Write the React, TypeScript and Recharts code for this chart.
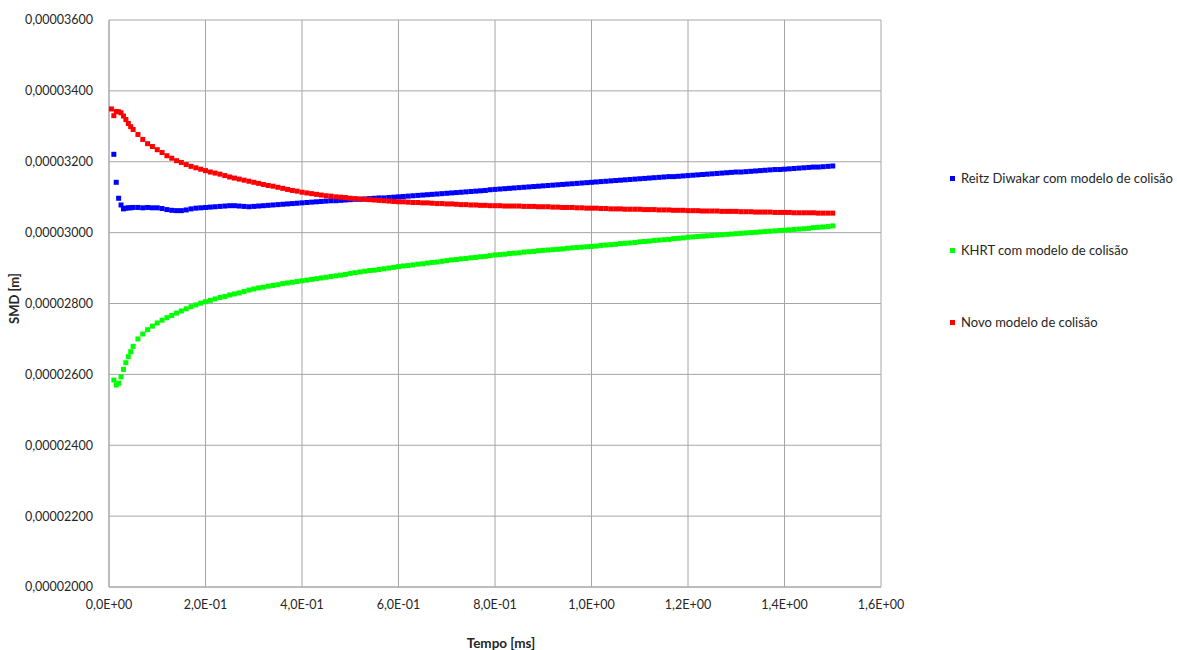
import { ScatterChart, Scatter, XAxis, YAxis, CartesianGrid, Label } from 'recharts'

// Sauter mean diameter (µm) sampled over injection time (ms)
const TIME_MS = [
  0.005, 0.01, 0.015, 0.02, 0.025, 0.03, 0.035, 0.04, 0.045, 0.05,
  0.06, 0.07, 0.08, 0.09, 0.1, 0.11, 0.12, 0.13, 0.14, 0.15,
  0.16, 0.17, 0.18, 0.19, 0.2, 0.21, 0.22, 0.23, 0.24, 0.25,
  0.26, 0.27, 0.28, 0.29, 0.3, 0.31, 0.32, 0.33, 0.34, 0.35,
  0.36, 0.37, 0.38, 0.39, 0.4, 0.41, 0.42, 0.43, 0.44, 0.45,
  0.46, 0.47, 0.48, 0.49, 0.5, 0.51, 0.52, 0.53, 0.54, 0.55,
  0.56, 0.57, 0.58, 0.59, 0.6, 0.61, 0.62, 0.63, 0.64, 0.65,
  0.66, 0.67, 0.68, 0.69, 0.7, 0.71, 0.72, 0.73, 0.74, 0.75,
  0.76, 0.77, 0.78, 0.79, 0.8, 0.81, 0.82, 0.83, 0.84, 0.85,
  0.86, 0.87, 0.88, 0.89, 0.9, 0.91, 0.92, 0.93, 0.94, 0.95,
  0.96, 0.97, 0.98, 0.99, 1.0, 1.01, 1.02, 1.03, 1.04, 1.05,
  1.06, 1.07, 1.08, 1.09, 1.1, 1.11, 1.12, 1.13, 1.14, 1.15,
  1.16, 1.17, 1.18, 1.19, 1.2, 1.21, 1.22, 1.23, 1.24, 1.25,
  1.26, 1.27, 1.28, 1.29, 1.3, 1.31, 1.32, 1.33, 1.34, 1.35,
  1.36, 1.37, 1.38, 1.39, 1.4, 1.41, 1.42, 1.43, 1.44, 1.45,
  1.46, 1.47, 1.48, 1.49, 1.5,
]

const SMD_REITZ = [
  null, 32.21, 31.42, 30.97, 30.78, 30.67, 30.69, 30.70, 30.70, 30.71,
  30.71, 30.70, 30.71, 30.70, 30.70, 30.68, 30.65, 30.63, 30.62, 30.62,
  30.64, 30.67, 30.69, 30.70, 30.71, 30.72, 30.73, 30.74, 30.75, 30.76,
  30.76, 30.75, 30.74, 30.73, 30.74, 30.75, 30.76, 30.77, 30.78, 30.79,
  30.80, 30.81, 30.82, 30.83, 30.84, 30.85, 30.86, 30.87, 30.88, 30.89,
  30.90, 30.90, 30.91, 30.92, 30.93, 30.94, 30.94, 30.95, 30.96, 30.97,
  30.98, 30.98, 30.99, 31.00, 31.01, 31.02, 31.03, 31.04, 31.05, 31.06,
  31.07, 31.08, 31.09, 31.10, 31.11, 31.12, 31.13, 31.14, 31.15, 31.16,
  31.17, 31.18, 31.19, 31.21, 31.22, 31.23, 31.24, 31.25, 31.26, 31.27,
  31.28, 31.29, 31.30, 31.31, 31.32, 31.33, 31.34, 31.35, 31.36, 31.37,
  31.38, 31.39, 31.40, 31.41, 31.42, 31.43, 31.44, 31.45, 31.46, 31.47,
  31.48, 31.49, 31.50, 31.51, 31.52, 31.53, 31.54, 31.55, 31.56, 31.57,
  31.58, 31.58, 31.59, 31.60, 31.61, 31.62, 31.63, 31.64, 31.65, 31.66,
  31.67, 31.68, 31.69, 31.70, 31.71, 31.71, 31.72, 31.73, 31.74, 31.75,
  31.76, 31.77, 31.78, 31.78, 31.79, 31.80, 31.81, 31.82, 31.83, 31.84,
  31.85, 31.85, 31.86, 31.87, 31.88,
]

const SMD_KHRT = [
  null, 25.84, 25.70, 25.75, 25.93, 26.14, 26.33, 26.50, 26.64, 26.79,
  27.00, 27.14, 27.26, 27.36, 27.45, 27.53, 27.60, 27.66, 27.73, 27.79,
  27.85, 27.91, 27.96, 28.01, 28.05, 28.09, 28.13, 28.17, 28.20, 28.24,
  28.27, 28.30, 28.34, 28.38, 28.41, 28.44, 28.46, 28.49, 28.51, 28.53,
  28.56, 28.58, 28.60, 28.62, 28.64, 28.66, 28.68, 28.70, 28.72, 28.74,
  28.76, 28.78, 28.80, 28.82, 28.85, 28.87, 28.89, 28.91, 28.93, 28.94,
  28.96, 28.98, 29.00, 29.02, 29.04, 29.06, 29.07, 29.09, 29.11, 29.12,
  29.14, 29.16, 29.17, 29.19, 29.21, 29.23, 29.24, 29.26, 29.27, 29.29,
  29.30, 29.32, 29.33, 29.35, 29.37, 29.38, 29.39, 29.41, 29.42, 29.43,
  29.45, 29.46, 29.47, 29.49, 29.50, 29.51, 29.52, 29.53, 29.54, 29.56,
  29.57, 29.58, 29.59, 29.60, 29.61, 29.62, 29.64, 29.65, 29.66, 29.67,
  29.69, 29.70, 29.71, 29.72, 29.74, 29.75, 29.76, 29.78, 29.79, 29.80,
  29.81, 29.83, 29.84, 29.85, 29.87, 29.88, 29.89, 29.90, 29.91, 29.92,
  29.93, 29.94, 29.95, 29.96, 29.97, 29.98, 29.99, 30.00, 30.01, 30.02,
  30.03, 30.04, 30.05, 30.06, 30.07, 30.08, 30.09, 30.10, 30.11, 30.12,
  30.14, 30.15, 30.16, 30.17, 30.19,
]

const SMD_NOVO = [
  33.49, 33.30, 33.42, 33.41, 33.38, 33.29, 33.19, 33.08, 32.99, 32.91,
  32.77, 32.63, 32.51, 32.43, 32.34, 32.26, 32.17, 32.10, 32.03, 31.98,
  31.92, 31.87, 31.83, 31.79, 31.75, 31.71, 31.68, 31.65, 31.61, 31.57,
  31.54, 31.51, 31.48, 31.45, 31.42, 31.39, 31.36, 31.33, 31.31, 31.28,
  31.25, 31.22, 31.19, 31.17, 31.14, 31.12, 31.10, 31.08, 31.06, 31.04,
  31.03, 31.01, 31.00, 30.99, 30.97, 30.96, 30.95, 30.94, 30.93, 30.92,
  30.91, 30.90, 30.89, 30.88, 30.87, 30.87, 30.86, 30.85, 30.85, 30.84,
  30.84, 30.83, 30.82, 30.82, 30.81, 30.81, 30.80, 30.79, 30.79, 30.78,
  30.78, 30.77, 30.77, 30.76, 30.76, 30.76, 30.75, 30.75, 30.75, 30.75,
  30.74, 30.74, 30.74, 30.73, 30.73, 30.73, 30.72, 30.72, 30.71, 30.71,
  30.71, 30.70, 30.70, 30.69, 30.69, 30.69, 30.68, 30.68, 30.67, 30.67,
  30.67, 30.66, 30.66, 30.66, 30.66, 30.65, 30.65, 30.65, 30.64, 30.64,
  30.64, 30.63, 30.63, 30.63, 30.62, 30.62, 30.62, 30.61, 30.61, 30.61,
  30.61, 30.60, 30.60, 30.60, 30.60, 30.59, 30.59, 30.59, 30.58, 30.58,
  30.58, 30.58, 30.57, 30.57, 30.57, 30.57, 30.56, 30.56, 30.56, 30.56,
  30.56, 30.55, 30.55, 30.55, 30.55,
]

const X_TICKS = [0, 0.2, 0.4, 0.6, 0.8, 1.0, 1.2, 1.4, 1.6]
const Y_TICKS = [20, 22, 24, 26, 28, 30, 32, 34, 36]

const SERIES = [
  { name: 'Reitz Diwakar com modelo de colisão', values: SMD_REITZ, color: '#0000FF' },
  { name: 'KHRT com modelo de colisão', values: SMD_KHRT, color: '#00FF00' },
  { name: 'Novo modelo de colisão', values: SMD_NOVO, color: '#FF0000' },
]

const FONT = 'Lato, "Open Sans", sans-serif'
const TEXT_COLOR = '#262626'
const GRID_COLOR = '#a6a6a6'
const MARKER = 5

const toPoints = (values: (number | null)[]) =>
  TIME_MS.map((t, i) => ({ t, smd: values[i] })).filter((p) => p.smd != null)

// 0.2 -> "2,0E-01"
const formatSci = (v: number) => {
  if (v === 0) return '0,0E+00'
  const exp = Math.floor(Math.log10(Math.abs(v)) + 1e-9)
  const mant = v / Math.pow(10, exp)
  const sign = exp < 0 ? '-' : '+'
  return `${mant.toFixed(1).replace('.', ',')}E${sign}${String(Math.abs(exp)).padStart(2, '0')}`
}

// axis values are in µm, labels in metres
const formatMetres = (v: number) => (v / 1e6).toFixed(8).replace('.', ',')

const squareShape = (color: string) => (props: any) => (
  <rect
    x={props.cx - MARKER / 2}
    y={props.cy - MARKER / 2}
    width={MARKER}
    height={MARKER}
    fill={color}
  />
)

const yTitle = (props: any) => {
  const { x, y, height } = props.viewBox
  const cx = x + 14
  const cy = y + height / 2 - 5
  return (
    <text
      x={cx}
      y={cy}
      transform={`rotate(-90 ${cx} ${cy})`}
      textAnchor="middle"
      dominantBaseline="central"
      fontFamily={FONT}
      fontSize={13}
      fontWeight={700}
      fill={TEXT_COLOR}
    >
      SMD [m]
    </text>
  )
}

export default function App() {
  const tick = { fill: TEXT_COLOR, fontSize: 12.5, fontFamily: FONT }

  return (
    <div style={{ position: 'absolute', left: 0, top: 0, width: 1177, height: 650, background: '#fff' }}>
      <ScatterChart width={1177} height={650} margin={{ top: 20, right: 296, bottom: 0, left: 0 }}>
        <CartesianGrid stroke={GRID_COLOR} />
        <XAxis
          type="number"
          dataKey="t"
          domain={[0, 1.6]}
          ticks={X_TICKS}
          tickFormatter={formatSci}
          tick={tick}
          tickLine={false}
          tickMargin={7}
          axisLine={{ stroke: GRID_COLOR }}
          height={63}
        >
          <Label
            value="Tempo [ms]"
            position="insideBottom"
            offset={2}
            dx={6}
            style={{ fontFamily: FONT, fontSize: 13.5, fontWeight: 700, fill: TEXT_COLOR }}
          />
        </XAxis>
        <YAxis
          type="number"
          dataKey="smd"
          domain={[20, 36]}
          ticks={Y_TICKS}
          tickFormatter={formatMetres}
          tick={tick}
          tickLine={false}
          tickMargin={10}
          axisLine={{ stroke: GRID_COLOR }}
          width={109}
          label={{ content: yTitle }}
        />
        {SERIES.map((s) => (
          <Scatter
            key={s.name}
            name={s.name}
            data={toPoints(s.values)}
            fill={s.color}
            shape={squareShape(s.color)}
            isAnimationActive={false}
          />
        ))}
      </ScatterChart>

      <div style={{ position: 'absolute', left: 950, top: 142, fontFamily: FONT, fontSize: 13, color: TEXT_COLOR }}>
        {SERIES.map((s) => (
          <div key={s.name} style={{ height: 72, display: 'flex', alignItems: 'center', whiteSpace: 'nowrap' }}>
            <span style={{ width: MARKER, height: MARKER, background: s.color, marginRight: 6, flex: 'none' }} />
            {s.name}
          </div>
        ))}
      </div>
    </div>
  )
}
